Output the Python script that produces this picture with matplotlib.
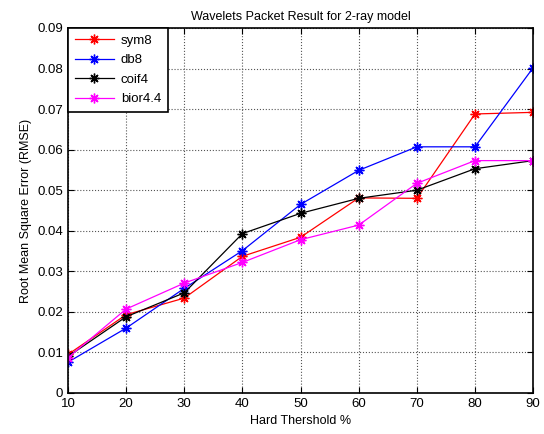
import numpy as np
import matplotlib
matplotlib.use('Agg')
import matplotlib.pyplot as plt

plt.rcParams['font.family'] = ['Liberation Sans', 'DejaVu Sans']

thresh = [10, 20, 30, 40, 50, 60, 70, 80, 90]
sym8 = [0.0095, 0.0193, 0.0234, 0.0337, 0.0384, 0.0481, 0.0480, 0.0688, 0.0692]
db8 = [0.0076, 0.0160, 0.0258, 0.0351, 0.0465, 0.0549, 0.0607, 0.0607, 0.0802]
coif4 = [0.0090, 0.0188, 0.0247, 0.0393, 0.0443, 0.0480, 0.0500, 0.0553, 0.0573]
bior44 = [0.0087, 0.0207, 0.0271, 0.0322, 0.0378, 0.0414, 0.0517, 0.0573, 0.0573]

fig = plt.figure(figsize=(5.44, 4.34), dpi=100)
ax = fig.add_axes([0.125, 0.0945, 0.855, 0.841])

# matlab style '*' marker = 8 spoke asterisk
star = (8, 2, 0)
ax.plot(thresh, sym8, color='red', marker=star, ms=7, mew=1, lw=0.9, label='sym8')
ax.plot(thresh, db8, color='blue', marker=star, ms=7, mew=1, lw=0.9, label='db8')
ax.plot(thresh, coif4, color='black', marker=star, ms=7, mew=1, lw=0.9, label='coif4')
ax.plot(thresh, bior44, color='magenta', marker=star, ms=7, mew=1, lw=0.9, label='bior4.4')

ax.set_xlim(10, 90)
ax.set_ylim(0, 0.09)
ax.set_xticks(thresh)
ax.set_yticks(np.arange(0, 0.091, 0.01))
ax.set_yticklabels(['0', '0.01', '0.02', '0.03', '0.04', '0.05', '0.06', '0.07', '0.08', '0.09'])
ax.tick_params(direction='in', top=True, right=True, labelsize=9.5, length=4)
ax.grid(which='major', axis='both', linestyle=':', color='#555555', lw=0.8)
for s in ax.spines.values():
    s.set_linewidth(1.2)

ax.set_title('Wavelets Packet Result for 2-ray model', fontsize=9)
ax.set_xlabel('Hard Thershold %', fontsize=9)
ax.set_ylabel('Root Mean Square Error (RMSE)', fontsize=9)

leg = ax.legend(loc='upper left', fontsize=9.5, fancybox=False, framealpha=1,
                edgecolor='black', borderaxespad=0.0, handlelength=3.0,
                handletextpad=0.5, borderpad=0.5,
                numpoints=1, labelspacing=0.55)
leg.get_frame().set_linewidth(1.2)

fig.savefig('out.png', dpi=100)
